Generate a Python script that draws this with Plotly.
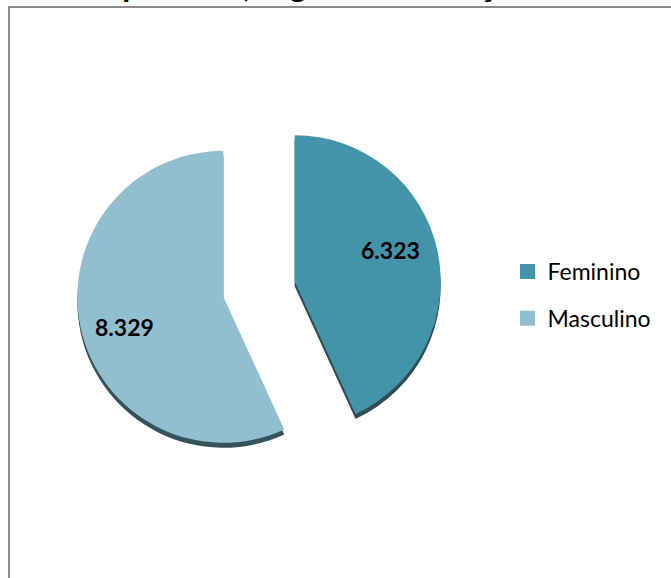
import plotly.graph_objects as go

# ---- data ----
categories = ["Feminino", "Masculino"]
values = [6323, 8329]
colors = ["#4394A9", "#92BFD0"]
title_text = "Matrículas por sexo, segundo a situação"

W, H = 671, 578

def px_x(x):
    return x / W

def px_y(y):
    return 1 - y / H

# pie domain (pixels)
dx0, dx1 = 76.5, 441.5
dy0, dy1 = 106.5, 471.5
pull = [0.25, 0.25]
shadow_shift = 5

fig = go.Figure()

# shadow pie (3D edge effect)
fig.add_trace(go.Pie(
    labels=categories, values=values, sort=False, direction="clockwise", rotation=0,
    pull=pull, marker=dict(colors=["#2f4d56", "#35535c"], line=dict(width=0)),
    textinfo="none", hoverinfo="skip", showlegend=False,
    domain=dict(x=[px_x(dx0), px_x(dx1)], y=[px_y(dy1 + shadow_shift), px_y(dy0 + shadow_shift)]),
))

# main pie
fig.add_trace(go.Pie(
    labels=categories, values=values, sort=False, direction="clockwise", rotation=0,
    pull=pull, marker=dict(colors=colors, line=dict(width=0)),
    textinfo="none", showlegend=False,
    domain=dict(x=[px_x(dx0), px_x(dx1)], y=[px_y(dy1), px_y(dy0)]),
))

# legend entries
for cat, col in zip(categories, colors):
    fig.add_trace(go.Scatter(
        x=[None], y=[None], mode="markers", name=cat, legendgroup=cat,
        marker=dict(symbol="square", size=15, color=col),
    ))

def fmt(v):
    return f"{v:,}".replace(",", ".")

label_pos = [(390, 250), (124, 327)]
annotations = []
for v, (lx, ly) in zip(values, label_pos):
    annotations.append(dict(
        text=f"<b>{fmt(v)}</b>", x=px_x(lx), y=px_y(ly), xref="paper", yref="paper",
        showarrow=False, xanchor="center", yanchor="middle",
        font=dict(family="Lato", size=23, color="#000000"),
    ))

annotations.append(dict(
    text=f"<b>{title_text}</b>", x=px_x(-37), y=px_y(6.5), xref="paper", yref="paper",
    showarrow=False, xanchor="left", yanchor="bottom",
    font=dict(family="Lato", size=32, color="#000000"),
))

fig.update_layout(
    width=W, height=H,
    margin=dict(l=0, r=0, t=0, b=0),
    paper_bgcolor="white", plot_bgcolor="white",
    xaxis=dict(visible=False), yaxis=dict(visible=False),
    showlegend=True,
    legend=dict(
        x=px_x(507.5), y=px_y(250), xanchor="left", yanchor="top",
        traceorder="grouped", tracegroupgap=14,
        font=dict(family="Lato", size=23, color="#000000"),
        itemsizing="trace", bgcolor="rgba(0,0,0,0)",
    ),
    annotations=annotations,
    shapes=[dict(
        type="rect", xref="paper", yref="paper",
        x0=px_x(9), x1=1.2, y0=-0.2, y1=px_y(7),
        line=dict(color="#8a8a8a", width=2), fillcolor="rgba(0,0,0,0)", layer="above",
    )],
)

fig.write_html(
    "out.html",
    config={"displayModeBar": False},
    post_script="document.body.style.margin='0';document.body.style.overflow='hidden';",
)
